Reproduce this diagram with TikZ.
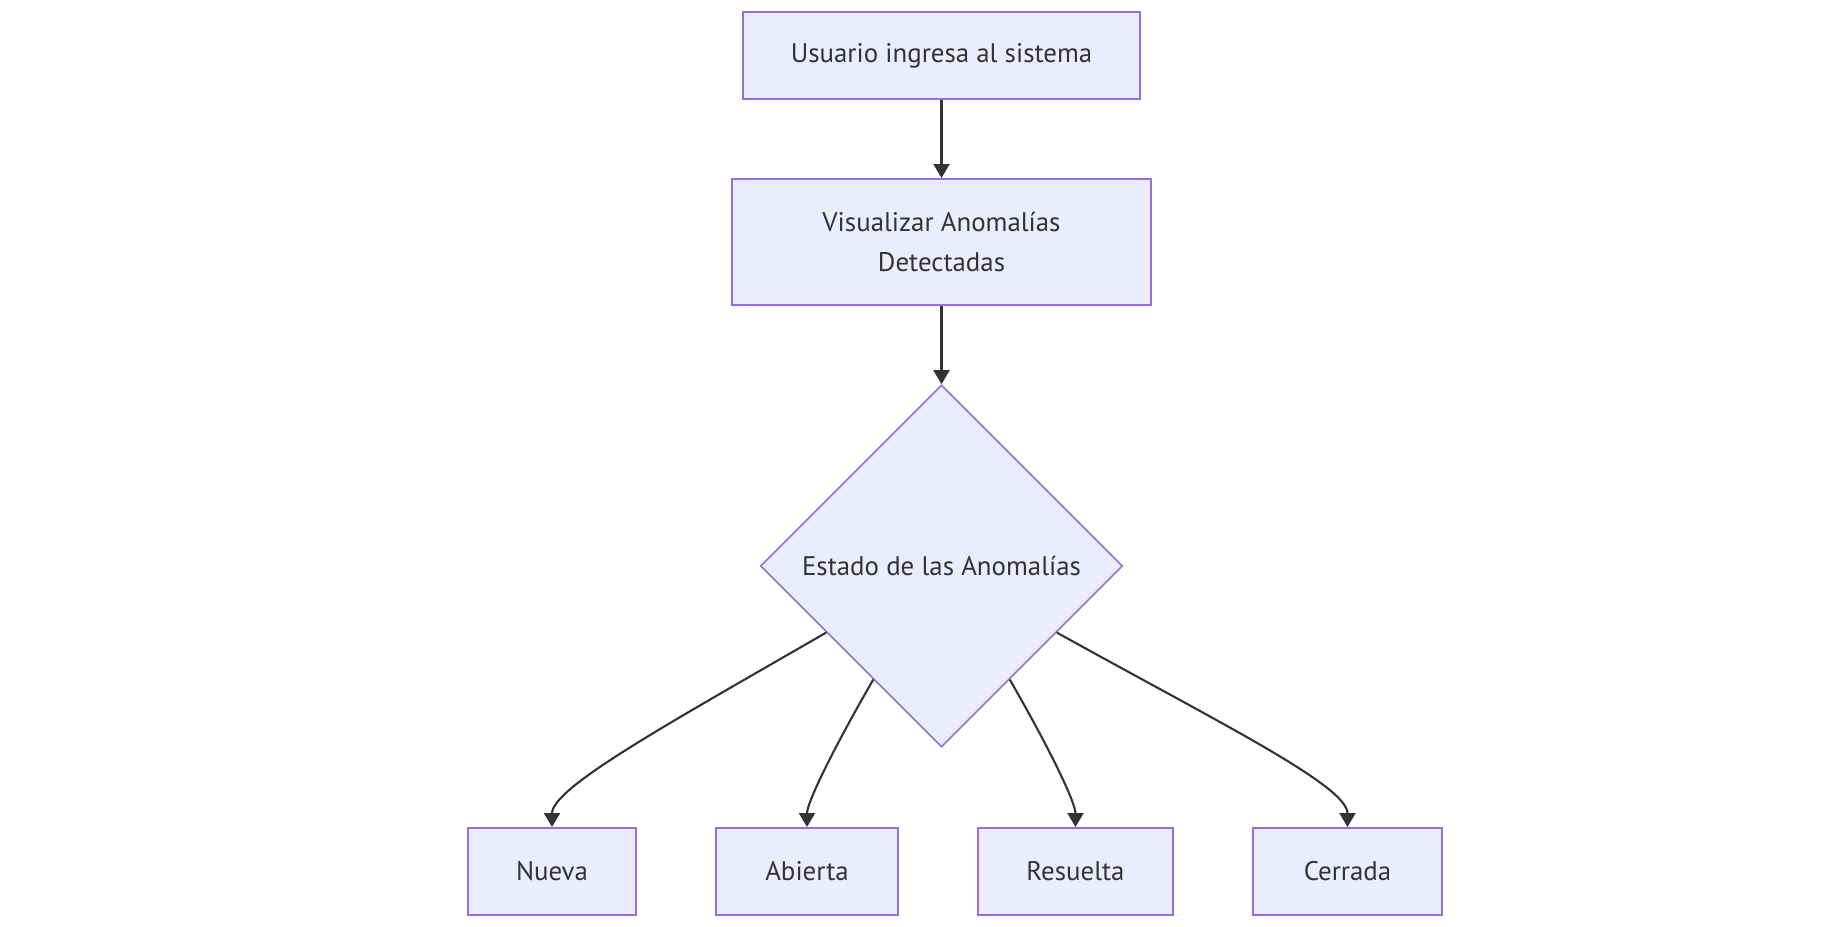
\documentclass[tikz,border=0pt]{standalone}
\usepackage{fontspec}
\setmainfont{PT Sans}
\usetikzlibrary{shapes.geometric, positioning, arrows.meta}
\definecolor{BoxFill}{HTML}{ECECFF}
\definecolor{BoxLine}{HTML}{9370DB}
\definecolor{LinkGray}{HTML}{333333}

\begin{document}
\begin{tikzpicture}[
        state/.style={draw=BoxLine, fill=BoxFill, line width=1.1pt, minimum height=1.74cm,
                      align=center, text=LinkGray, font=\fontsize{15.3}{23}\selectfont},
        decision/.style={diamond, draw=BoxLine, fill=BoxFill, line width=0.9pt, inner sep=0pt,
                         minimum width=7.24cm, minimum height=7.24cm, text=LinkGray,
                         font=\fontsize{15.3}{23}\selectfont},
        arrow/.style={-{Triangle[length=2.8mm, width=3.2mm]}, line width=1.2pt, LinkGray}]

        \useasboundingbox (0, 0) rectangle (36.52, -18.54);

        % Top: entry and list view
        \node[state, minimum width=7.94cm] (usuario) at (18.83, -1.11) {Usuario ingresa al sistema};
        \node[state, minimum width=8.38cm, minimum height=2.52cm] (visualizar) at (18.83, -4.84) {%
            Visualizar Anomalías\\Detectadas};

        % Middle: decision
        \node[decision] (estado) at (18.83, -11.32) {Estado de las Anomalías};

        % Bottom: the four states
        \node[state, minimum width=3.36cm] (nueva) at (11.04, -17.43) {Nueva};
        \node[state, minimum width=3.64cm] (abierta) at (16.14, -17.43) {Abierta};
        \node[state, minimum width=3.90cm] (resuelta) at (21.51, -17.43) {Resuelta};
        \node[state, minimum width=3.78cm] (cerrada) at (26.95, -17.43) {Cerrada};

        \draw[arrow] (usuario) -- (visualizar);
        \draw[arrow] (visualizar) -- (estado);
        \draw[arrow] (estado.210) to[out=210, in=90, out looseness=1.4, in looseness=0.3] (nueva.north);
        \draw[arrow] (estado.239) to[out=240, in=90, out looseness=1.2, in looseness=0.4] (abierta.north);
        \draw[arrow] (estado.301) to[out=300, in=90, out looseness=1.2, in looseness=0.4] (resuelta.north);
        \draw[arrow] (estado.330) to[out=331, in=90, out looseness=1.4, in looseness=0.3] (cerrada.north);
    \end{tikzpicture}
\end{document}
